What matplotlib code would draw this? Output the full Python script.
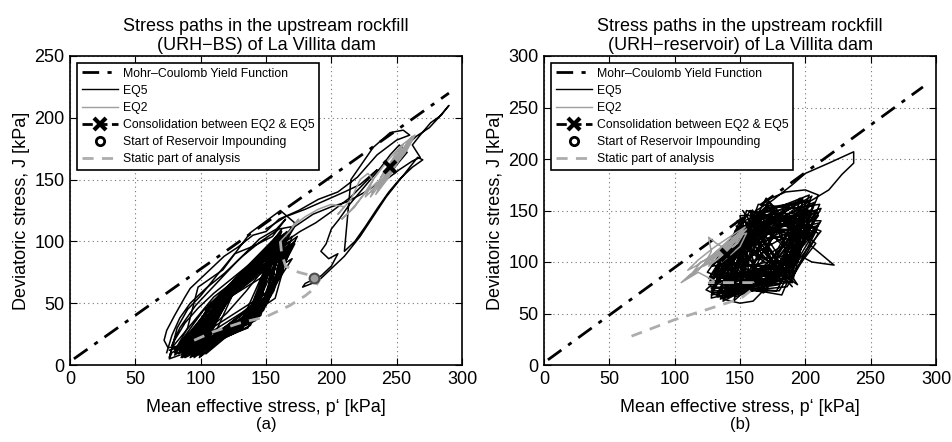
import numpy as np
import matplotlib.pyplot as plt
from matplotlib.lines import Line2D

plt.rcParams['font.family'] = ['Liberation Sans', 'DejaVu Sans']

# ---------------- data, panel (a) URH-BS ----------------
mc_p = [3, 290]
mc_j_a = [5, 220]
mc_j_b = [5, 270]

static_a_p = [95, 110, 130, 150, 168, 180, 187, 191, 186, 175, 165, 162, 161]
static_a_j = [20, 27, 34, 39, 48, 56, 62, 69, 72, 75, 80, 90, 100]
impound_a = (187, 70)

eq2_a_p = [161, 168, 175, 170, 180, 190, 200, 210, 205, 215, 222, 228, 232, 226, 218, 208,
           214, 225, 235, 230, 240, 248, 238, 245, 255, 250, 240, 248, 258, 262, 252, 244,
           236, 242, 252, 260, 256, 246, 238, 234, 244, 254, 262, 258, 248, 240, 230, 236,
           248, 258, 264, 254, 242, 232, 226, 238, 250, 260, 252, 240, 234, 246, 256, 250, 246]
eq2_a_j = [100, 108, 118, 112, 120, 126, 130, 128, 122, 134, 150, 155, 150, 140, 128, 118,
           124, 138, 148, 136, 150, 166, 152, 160, 178, 172, 155, 162, 180, 185, 170, 156,
           142, 150, 168, 182, 176, 160, 146, 138, 152, 170, 184, 176, 162, 152, 140, 146,
           160, 174, 186, 178, 164, 150, 136, 148, 164, 180, 172, 156, 144, 158, 174, 168, 160]
cons_a = (245, 160)

# outer excursions of EQ5
eq5_a_out_p = [245, 255, 265, 275, 282, 290, 284, 276, 268, 262, 268, 262, 252, 242, 250,
               258, 252, 245, 238, 230, 222, 214, 206, 200, 196, 192, 198, 205, 200, 192,
               180, 178, 190, 198, 210, 222, 232, 242, 254, 266, 270, 262, 252, 244, 236,
               226, 218, 210, 215, 232, 245, 255, 260, 250, 235, 220, 205, 190, 175, 160,
               150, 140, 128, 118, 110, 100, 92, 88, 80, 74, 72, 75, 82, 90, 98, 117, 138,
               161, 172, 165, 150, 135, 120, 105, 92, 78, 76, 84]
eq5_a_out_j = [160, 175, 185, 192, 200, 210, 202, 196, 186, 178, 168, 165, 158, 150, 162,
               172, 178, 170, 160, 150, 140, 130, 118, 110, 98, 92, 86, 90, 80, 72,
               66, 63, 68, 76, 88, 104, 120, 136, 152, 168, 166, 160, 150, 140, 128,
               112, 100, 92, 150, 176, 188, 190, 186, 182, 170, 152, 140, 134, 125, 118,
               108, 105, 95, 88, 80, 70, 62, 55, 40, 28, 20, 14, 15, 30, 63, 77, 107,
               125, 115, 98, 80, 60, 42, 28, 18, 10, 5, 8]

eq5_a_loop_p = [74, 78, 84, 92, 104, 118, 132, 146, 160, 170, 162, 150, 138, 124, 110, 98,
                88, 80, 76, 82, 90, 100, 112, 126, 140, 155, 165, 158, 145, 128, 112, 96,
                84, 78]
eq5_a_loop_j = [10, 24, 38, 50, 62, 74, 88, 100, 110, 112, 100, 92, 82, 70, 58, 46,
                34, 20, 6, 30, 45, 56, 72, 90, 96, 104, 118, 110, 102, 84, 66, 48,
                30, 16]

eq5_a_mid_p = [150, 165, 180, 195, 210, 222, 235, 228, 215, 200, 188, 176, 165, 172, 186,
               200, 212, 226, 240]
eq5_a_mid_j = [110, 120, 126, 133, 140, 146, 158, 150, 136, 124, 115, 108, 100, 112, 122,
               128, 132, 140, 150]

# dense hysteresis loops of EQ5 (lower-left, upper-left, upper-right, lower-right)
eq5_a_blob_p = [80, 112, 165, 135, 88, 118, 158, 140, 84, 105, 170, 145, 95, 120, 162, 132,
                78, 110, 155, 142, 90, 125, 172, 150, 100, 115, 160, 128, 86, 108, 168, 138,
                92, 122, 150, 145, 82, 102, 166, 152, 96, 128, 174, 140, 88, 112, 156, 130,
                80, 118, 163, 148, 104, 124, 170, 136, 90, 106, 158, 142, 85, 116, 167, 157,
                98, 130, 160, 134, 83, 110, 172, 146, 94, 120, 154, 138, 87, 114, 165, 144,
                100, 126, 169, 155, 80, 108, 160, 132, 76]
eq5_a_blob_j = [10, 52, 105, 38, 7, 55, 98, 42, 12, 45, 95, 45, 6, 50, 110, 30,
                14, 55, 92, 40, 9, 62, 100, 50, 8, 48, 88, 28, 10, 50, 108, 36,
                6, 58, 85, 40, 15, 44, 96, 55, 10, 68, 104, 35, 8, 46, 94, 32,
                12, 60, 100, 48, 9, 56, 86, 30, 14, 48, 104, 44, 6, 54, 92, 54,
                12, 70, 96, 33, 9, 50, 98, 46, 7, 55, 90, 38, 11, 52, 102, 42,
                12, 62, 94, 58, 8, 48, 100, 30, 12]

eq5_a_blob2_p = [92, 116, 162, 146, 86, 120, 156, 150, 98, 112, 168, 142, 84, 124, 160, 154,
                 94, 118, 170, 138, 88, 110, 158, 148, 96, 126, 164, 156, 82, 114, 152, 140,
                 100, 122, 166, 152, 90, 116, 162, 136, 85, 128, 170, 158, 97, 112, 156, 144,
                 89, 120, 168, 150, 93, 124, 160, 146, 87, 118, 164, 154, 99, 114, 158, 142,
                 84, 126, 166, 156, 91, 110, 170, 148, 95, 122, 154, 138, 86, 116, 162, 152]
eq5_a_blob2_j = [10, 50, 100, 42, 6, 60, 96, 50, 8, 46, 92, 36, 10, 66, 104, 58,
                 12, 54, 98, 32, 6, 44, 90, 46, 9, 68, 106, 62, 12, 50, 88, 40,
                 7, 58, 96, 52, 10, 56, 108, 30, 8, 72, 104, 66, 11, 48, 92, 44,
                 7, 62, 100, 48, 13, 64, 94, 40, 9, 58, 102, 56, 6, 52, 98, 38,
                 11, 70, 108, 60, 8, 46, 96, 44, 10, 60, 90, 34, 12, 54, 104, 54]

# ---------------- data, panel (b) URH-reservoir ----------------
static_b_p = [67, 100, 125, 142, 152, 158, 160, 145, 126]
static_b_j = [28, 44, 54, 61, 66, 72, 80, 80, 80]

eq2_b_p = [126, 130, 118, 105, 112, 125, 138, 150, 155, 148, 135, 120, 110, 118, 130, 142,
           152, 145, 132, 122, 128, 126, 132, 140, 148, 155, 150, 140, 136, 142, 120, 114,
           124, 136, 146, 154, 144, 130, 118, 110, 116, 128, 140, 150, 146, 134, 126, 132,
           144, 152, 148, 138, 140]
eq2_b_j = [80, 82, 90, 80, 88, 100, 115, 128, 132, 122, 108, 95, 85, 92, 108, 122,
           130, 118, 102, 96, 110, 124, 118, 112, 125, 128, 115, 104, 100, 110, 100, 90,
           98, 112, 124, 134, 126, 114, 102, 92, 96, 106, 118, 126, 116, 104, 96, 106,
           120, 126, 118, 110, 107]
cons_b = (140, 107)

eq5_b_blob_p = [140, 130, 155, 205, 175, 138, 160, 198, 185, 127, 150, 210, 170, 142, 165, 200,
                190, 133, 158, 212, 180, 128, 148, 195, 172, 145, 170, 208, 188, 130, 153, 203,
                178, 136, 162, 196, 192, 126, 150, 210, 168, 140, 166, 200, 184, 132, 156, 206,
                176, 129, 160, 198, 190, 144, 152, 211, 172, 135, 168, 204, 182, 127, 158, 194,
                186, 139, 150, 209, 174, 131, 164, 202, 180, 137, 155, 207, 188, 128, 162, 199,
                176, 141, 170, 212, 184, 133, 150, 196, 170, 135]
eq5_b_blob_j = [107, 75, 135, 150, 85, 65, 140, 160, 90, 85, 125, 135, 80, 70, 148, 125,
                95, 80, 130, 152, 78, 68, 118, 140, 92, 62, 155, 118, 85, 90, 140, 165,
                82, 72, 132, 130, 100, 78, 128, 145, 75, 66, 150, 158, 88, 84, 136, 128,
                80, 70, 145, 148, 96, 76, 122, 138, 86, 64, 152, 160, 82, 82, 138, 122,
                92, 68, 132, 150, 78, 86, 146, 135, 90, 62, 128, 158, 80, 74, 142, 142,
                88, 80, 150, 130, 84, 66, 124, 152, 92, 70]

eq5_b_blob2_p = [134, 165, 208, 178, 128, 150, 200, 192, 142, 172, 196, 168, 125, 158, 210, 186,
                 138, 145, 204, 174, 130, 162, 198, 190, 146, 168, 212, 180, 127, 154, 194, 172,
                 136, 160, 206, 188, 132, 170, 200, 176, 140, 152, 210, 194, 129, 166, 202, 170,
                 144, 156, 196, 184, 126, 148, 208, 178, 137, 164, 204, 190, 131, 158, 199, 174,
                 143, 168, 211, 182, 128, 150, 197, 186, 135, 162, 205, 172, 139, 155, 209, 192]
eq5_b_blob2_j = [95, 130, 142, 72, 72, 110, 150, 104, 85, 158, 118, 70, 90, 150, 128, 76,
                 70, 120, 146, 96, 100, 126, 162, 86, 66, 140, 140, 72, 76, 146, 132, 100,
                 92, 118, 156, 92, 68, 162, 120, 80, 78, 135, 148, 108, 96, 145, 128, 74,
                 74, 124, 162, 98, 84, 128, 134, 88, 64, 156, 150, 80, 88, 116, 138, 102,
                 70, 148, 156, 68, 80, 140, 124, 94, 98, 132, 164, 78, 66, 150, 132, 90]

eq5_b_core_p = [148, 190, 152, 186, 146, 194, 158, 180, 150, 192, 145, 188, 160, 195, 149,
                184, 155, 190, 147, 193, 162, 178, 151, 189, 146, 185, 157, 194, 150, 182,
                165, 150, 175, 155, 185, 148, 170, 190, 160, 152, 180, 195, 168, 146, 178,
                188, 158, 150, 172, 192, 164, 154, 186, 148, 176, 194, 162, 156, 182, 170]
eq5_b_core_j = [140, 80, 150, 90, 120, 78, 148, 85, 100, 130, 110, 140, 145, 100, 88,
                150, 130, 76, 135, 120, 150, 82, 95, 145, 125, 88, 140, 110, 80, 135,
                150, 85, 148, 78, 152, 110, 80, 140, 148, 76, 84, 150, 78, 130, 150,
                90, 80, 145, 146, 100, 76, 140, 82, 95, 150, 125, 80, 132, 146, 110]

eq5_b_out_p = [135, 150, 160, 175, 190, 200, 218, 237, 237, 228, 218, 205, 190, 178, 170,
               185, 200, 210, 205, 195, 205, 222, 205, 190, 180, 170, 160, 150, 140, 124,
               130, 128, 145, 160, 175, 195, 210, 200]
eq5_b_out_j = [70, 125, 148, 160, 175, 186, 196, 207, 196, 185, 170, 160, 150, 135, 160,
               168, 170, 165, 150, 135, 115, 97, 100, 110, 95, 75, 62, 60, 63, 73,
               80, 65, 70, 92, 110, 125, 152, 140]

# ---------------- drawing ----------------
fig = plt.figure(figsize=(9.52, 4.42), dpi=100)
ax_a = fig.add_axes([70 / 952, 1 - 365 / 442, 392 / 952, 309 / 442])
ax_b = fig.add_axes([544 / 952, 1 - 365 / 442, 392 / 952, 309 / 442])

gray = (0.62, 0.62, 0.62)
mc_style = dict(color='k', lw=2, linestyle=(0, (6, 3, 1.5, 3)))
static_style = dict(color=(0.68, 0.68, 0.68), lw=2, linestyle=(0, (4, 3)))


def draw_panel(ax, mc_j, static_p, static_j, eq2_p, eq2_j, cons, eq5_parts, impound=None):
    ax.plot(mc_p, mc_j, **mc_style)
    for p, j in eq5_parts:
        ax.plot(p, j, color='k', lw=1.1)
    ax.plot(static_p, static_j, **static_style)
    ax.plot(eq2_p, eq2_j, color=gray, lw=1.1)
    ax.plot([eq2_p[-1], cons[0]], [eq2_j[-1], cons[1]], color='k', lw=2, ls='--')
    ax.plot(*cons, marker='x', color='k', ms=9, mew=3)
    if impound is not None:
        ax.plot(*impound, marker='o', mfc=gray, mec=(0.3, 0.3, 0.3), ms=7, mew=1.5)


draw_panel(ax_a, mc_j_a, static_a_p, static_a_j, eq2_a_p, eq2_a_j, cons_a,
           [(eq5_a_blob_p, eq5_a_blob_j), (eq5_a_blob2_p, eq5_a_blob2_j),
            (eq5_a_loop_p, eq5_a_loop_j), (eq5_a_mid_p, eq5_a_mid_j),
            (eq5_a_out_p, eq5_a_out_j)], impound_a)
draw_panel(ax_b, mc_j_b, static_b_p, static_b_j, eq2_b_p, eq2_b_j, cons_b,
           [(eq5_b_blob_p, eq5_b_blob_j), (eq5_b_blob2_p, eq5_b_blob2_j),
            (eq5_b_core_p, eq5_b_core_j), (eq5_b_out_p, eq5_b_out_j)])

handles = [
    Line2D([], [], **mc_style),
    Line2D([], [], color='k', lw=1),
    Line2D([], [], color=gray, lw=1),
    Line2D([], [], color='k', lw=2, ls='--', marker='x', ms=8, mew=3),
    Line2D([], [], ls='none', marker='o', mfc='none', mec='k', ms=6, mew=2),
    Line2D([], [], **static_style),
]
labels = ['Mohr–Coulomb Yield Function', 'EQ5', 'EQ2',
          'Consolidation between EQ2 & EQ5', 'Start of Reservoir Impounding',
          'Static part of analysis']

titles = ['Stress paths in the upstream rockfill\n(URH−BS) of La Villita dam',
          'Stress paths in the upstream rockfill\n(URH−reservoir) of La Villita dam']
ymax = [250, 300]
for ax, title, ym, tag in zip([ax_a, ax_b], titles, ymax, ['(a)', '(b)']):
    ax.set_xlim(0, 300)
    ax.set_ylim(0, ym)
    ax.set_xticks(np.arange(0, 301, 50))
    ax.set_yticks(np.arange(0, ym + 1, 50))
    ax.tick_params(direction='in', top=True, right=True, length=5, labelsize=13, pad=4)
    ax.grid(True, linestyle=(0, (1, 3)), color=(0.45, 0.45, 0.45), lw=0.8)
    for s in ax.spines.values():
        s.set_linewidth(1.2)
    ax.set_title(title, fontsize=13, pad=4, linespacing=1.15)
    ax.set_xlabel('Mean effective stress, p‘ [kPa]', fontsize=13, labelpad=8)
    ax.set_ylabel('Deviatoric stress, J [kPa]', fontsize=13, labelpad=3)
    leg = ax.legend(handles, labels, loc='upper left', fontsize=8.8, handlelength=3.0,
                    fancybox=False, framealpha=1, edgecolor='k', borderpad=0.35,
                    labelspacing=0.42, handletextpad=0.4, borderaxespad=0.6)
    leg.get_frame().set_linewidth(1.2)
    pos = ax.get_position()
    fig.text(pos.x0 + pos.width / 2, 1 - 425 / 442, tag, ha='center', va='center', fontsize=12)

fig.savefig('out.png', dpi=100)
